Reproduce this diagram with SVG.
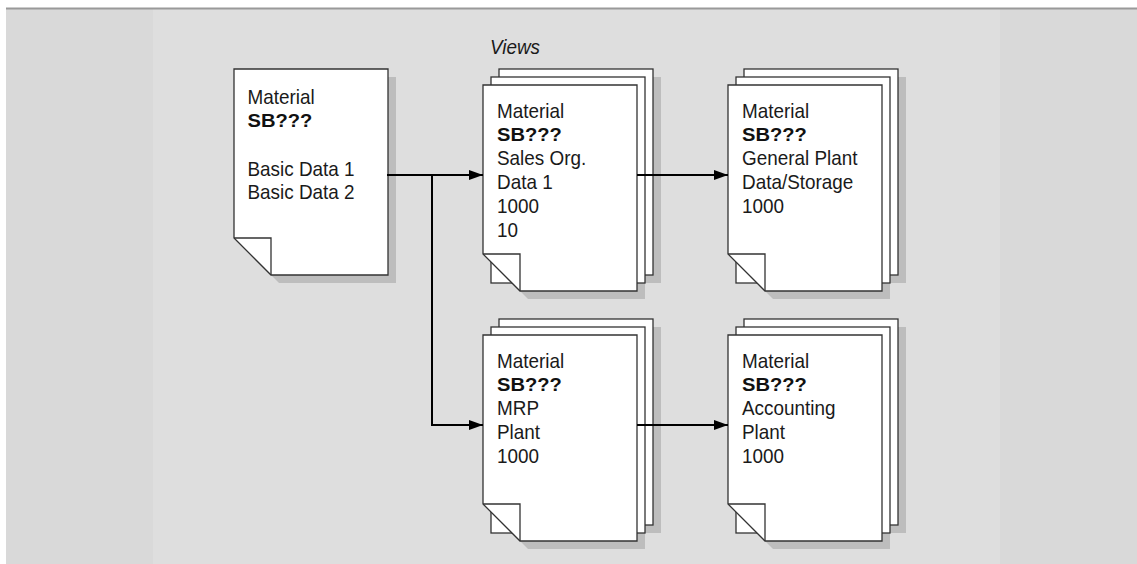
<svg xmlns="http://www.w3.org/2000/svg" xmlns:xlink="http://www.w3.org/1999/xlink" width="1137" height="564" viewBox="0 0 1137 564">
<style>
.pg{fill:#fff;stroke:#333;stroke-width:1.3}
.sh{fill:#bdbdbd}
.fd{fill:none;stroke:#333;stroke-width:1.3}
.t{font-family:"Liberation Sans",Arial,sans-serif;font-size:21px;fill:#1a1a1a}
.b{font-family:"Liberation Sans",Arial,sans-serif;font-size:18px;font-weight:bold;fill:#111}
.cn{fill:none;stroke:#000;stroke-width:2}
</style>
<defs>
<path id="page" d="M0,0H154V206H37L0,169Z"/>
<path id="fold" d="M0,169H37V206"/>
<rect id="sheet" width="154" height="206"/>
<marker id="ah" viewBox="0 0 14 10" refX="14" refY="5" markerWidth="14" markerHeight="10" markerUnits="userSpaceOnUse" orient="auto">
<path d="M0,0L14,5L0,10Z" fill="#000"/>
</marker>
</defs>
<rect x="0" y="0" width="1137" height="564" fill="#fff"/>
<rect x="6" y="9" width="1131" height="555" fill="#d9d9d9"/>
<rect x="153" y="9" width="847" height="555" fill="#dedede"/>
<rect x="6" y="7.5" width="1131" height="2" fill="#999"/>

<text class="t" font-style="italic" transform="translate(490,54) scale(0.9,1)">Views</text>

<g id="basic-data" transform="translate(234,69)">
<use href="#page" class="sh" x="8" y="8"/>
<use href="#page" class="pg"/>
<use href="#fold" class="fd"/>
<g transform="translate(13.5,0) scale(0.9,1)">
<text class="t" y="35">Material</text>
<text class="b" y="58" textLength="72" lengthAdjust="spacingAndGlyphs">SB???</text>
<text class="t" y="107">Basic Data 1</text>
<text class="t" y="130">Basic Data 2</text>
</g>
</g>

<g id="sales-org" transform="translate(483,85)">
<use href="#sheet" class="sh" x="24" y="-8"/>
<use href="#page" class="sh" x="8" y="8"/>
<use href="#sheet" class="pg" x="16" y="-16"/>
<use href="#sheet" class="pg" x="8" y="-8"/>
<use href="#page" class="pg"/>
<use href="#fold" class="fd"/>
<g transform="translate(14,0) scale(0.9,1)">
<text class="t" y="33.5">Material</text>
<text class="b" y="56" textLength="72" lengthAdjust="spacingAndGlyphs">SB???</text>
<text class="t" y="80">Sales Org.</text>
<text class="t" y="104">Data 1</text>
<text class="t" y="128">1000</text>
<text class="t" y="152">10</text>
</g>
</g>

<g id="general-plant" transform="translate(728,85)">
<use href="#sheet" class="sh" x="24" y="-8"/>
<use href="#page" class="sh" x="8" y="8"/>
<use href="#sheet" class="pg" x="16" y="-16"/>
<use href="#sheet" class="pg" x="8" y="-8"/>
<use href="#page" class="pg"/>
<use href="#fold" class="fd"/>
<g transform="translate(14,0) scale(0.9,1)">
<text class="t" y="33.5">Material</text>
<text class="b" y="56" textLength="72" lengthAdjust="spacingAndGlyphs">SB???</text>
<text class="t" y="80">General Plant</text>
<text class="t" y="104">Data/Storage</text>
<text class="t" y="128">1000</text>
</g>
</g>

<g id="mrp" transform="translate(483,335)">
<use href="#sheet" class="sh" x="24" y="-8"/>
<use href="#page" class="sh" x="8" y="8"/>
<use href="#sheet" class="pg" x="16" y="-16"/>
<use href="#sheet" class="pg" x="8" y="-8"/>
<use href="#page" class="pg"/>
<use href="#fold" class="fd"/>
<g transform="translate(14,0) scale(0.9,1)">
<text class="t" y="33.5">Material</text>
<text class="b" y="56" textLength="72" lengthAdjust="spacingAndGlyphs">SB???</text>
<text class="t" y="80">MRP</text>
<text class="t" y="104">Plant</text>
<text class="t" y="128">1000</text>
</g>
</g>

<g id="accounting" transform="translate(728,335)">
<use href="#sheet" class="sh" x="24" y="-8"/>
<use href="#page" class="sh" x="8" y="8"/>
<use href="#sheet" class="pg" x="16" y="-16"/>
<use href="#sheet" class="pg" x="8" y="-8"/>
<use href="#page" class="pg"/>
<use href="#fold" class="fd"/>
<g transform="translate(14,0) scale(0.9,1)">
<text class="t" y="33.5">Material</text>
<text class="b" y="56" textLength="72" lengthAdjust="spacingAndGlyphs">SB???</text>
<text class="t" y="80">Accounting</text>
<text class="t" y="104">Plant</text>
<text class="t" y="128">1000</text>
</g>
</g>

<g id="connectors">
<path class="cn" d="M387,175H483" marker-end="url(#ah)"/>
<path class="cn" d="M432,175V425H483" marker-end="url(#ah)"/>
<path class="cn" d="M637,175H728" marker-end="url(#ah)"/>
<path class="cn" d="M637,425H728" marker-end="url(#ah)"/>
</g>
</svg>
